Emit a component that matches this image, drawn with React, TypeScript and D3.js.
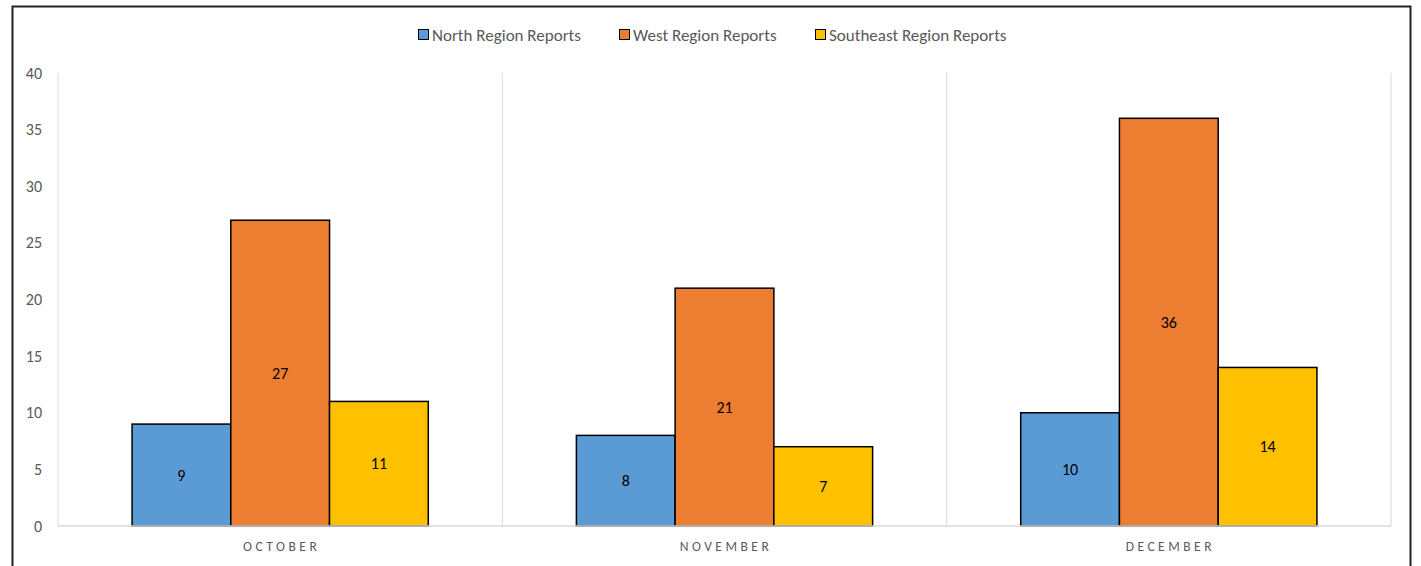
import React from 'react';
import * as d3 from 'd3';

// chart data
const months = ["OCTOBER", "NOVEMBER", "DECEMBER"];
const seriesNames = ["North Region Reports", "West Region Reports", "Southeast Region Reports"];
const northValues = [9, 8, 10];
const westValues = [27, 21, 36];
const southeastValues = [11, 7, 14];
const yTicks = [0, 5, 10, 15, 20, 25, 30, 35, 40];

const colors = ["#5B9BD5", "#ED7D31", "#FFC000"];
const font = "Carlito, Calibri, Lato, 'Open Sans', sans-serif";

const W = 1421;
const H = 566;
const margin = { top: 73, right: 30, bottom: 40, left: 58 };

const App = () => {
  const series = [northValues, westValues, southeastValues];
  const plotRight = 1391;
  const plotBottom = 526;

  const x = d3.scaleBand().domain(months).range([margin.left, plotRight]);
  // gap width 150% -> 3 bars + 1.5 bar widths of gap per category
  const barW = x.bandwidth() / 4.5;
  const groupPad = (x.bandwidth() - barW * 3) / 2;
  const y = d3.scaleLinear().domain([0, 40]).range([plotBottom, margin.top]);

  const boundaries = [...months.map(m => x(m) as number), plotRight];

  const legendItems = [
    { name: seriesNames[0], x: 418 },
    { name: seriesNames[1], x: 619 },
    { name: seriesNames[2], x: 815 },
  ];

  return (
    <svg width={W} height={H} style={{ display: 'block', position: 'absolute', left: 0, top: 0 }} fontFamily={font}>
      <rect x={0} y={0} width={W} height={H} fill="#fff" />
      {/* outer frame */}
      <rect x={12.5} y={6.5} width={1398} height={600} fill="none" stroke="#222" strokeWidth={2} />

      {/* vertical gridlines at category boundaries */}
      {boundaries.map((bx, i) => (
        <line key={i} x1={bx} x2={bx} y1={margin.top} y2={plotBottom} stroke="#D9D9D9" strokeWidth={1} />
      ))}

      {/* y tick labels */}
      {yTicks.map(t => (
        <text key={t} x={42} y={y(t)} dy="0.35em" textAnchor="end" fontSize={16} fill="#595959">{t}</text>
      ))}

      {/* bars */}
      {months.map((m, ci) => (
        <g key={m}>
          {series.map((vals, si) => {
            const bx = (x(m) as number) + groupPad + si * barW;
            const by = y(vals[ci]);
            return (
              <g key={si}>
                <rect x={bx} y={by} width={barW} height={plotBottom - by} fill={colors[si]} stroke="#000" strokeWidth={1.5} />
                <text x={bx + barW / 2} y={(by + plotBottom) / 2} dy="0.35em" textAnchor="middle" fontSize={16} fill="#000">{vals[ci]}</text>
              </g>
            );
          })}
        </g>
      ))}

      {/* x axis line */}
      <line x1={margin.left} x2={plotRight} y1={plotBottom} y2={plotBottom} stroke="#D9D9D9" strokeWidth={1.5} />

      {/* category labels */}
      {months.map(m => (
        <text key={m} x={(x(m) as number) + x.bandwidth() / 2 + 1.5} y={546} dy="0.35em" textAnchor="middle" fontSize={13.5} letterSpacing={3.5} fill="#595959">{m}</text>
      ))}

      {/* legend */}
      {legendItems.map((it, i) => (
        <g key={it.name}>
          <rect x={it.x + 0.5} y={29.5} width={10} height={10} fill={colors[i]} stroke="#000" strokeWidth={1} />
          <text x={it.x + 14} y={35} dy="0.35em" fontSize={17} fill="#595959">{it.name}</text>
        </g>
      ))}
    </svg>
  );
};

export default App;
